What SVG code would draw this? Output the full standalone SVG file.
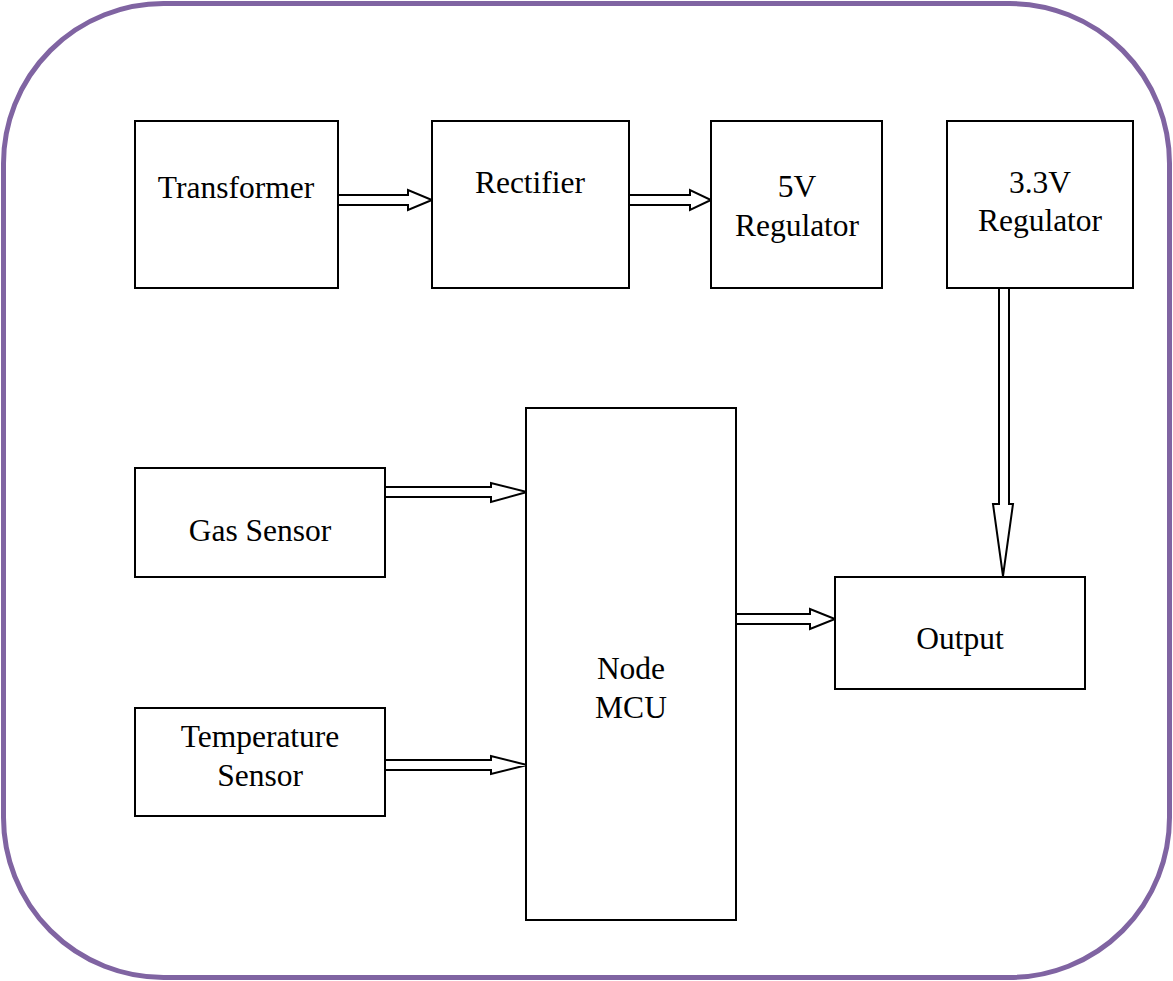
<svg xmlns="http://www.w3.org/2000/svg" width="1173" height="981" viewBox="0 0 1173 981">
<style>
.box{fill:#fff;stroke:#000;stroke-width:2}
.arr{fill:#fff;stroke:#000;stroke-width:2;stroke-linejoin:miter}
text{font-family:"Liberation Serif",serif;font-size:31.5px;fill:#000;text-anchor:middle}
</style>
<rect x="0" y="0" width="1173" height="981" fill="#fff"/>
<rect id="frame" x="3.5" y="3.5" width="1166" height="974" rx="160" ry="160" fill="none" stroke="#8064A2" stroke-width="5"/>
<g id="connectors">
<polygon class="arr" points="338,195 408,195 408,190 432,200 408,210 408,205 338,205"/>
<polygon class="arr" points="629,195 690,195 690,190 711,200 690,210 690,205 629,205"/>
<polygon class="arr" points="999,288 1009,288 1009,504 1013,504 1003,576 993,504 999,504"/>
<polygon class="arr" points="385,487 491,487 491,483 527,492 491,502 491,497 385,497"/>
<polygon class="arr" points="385,760 491,760 491,756 527,765 491,774 491,770 385,770"/>
<polygon class="arr" points="736,614 810,614 810,609 835,619 810,629 810,624 736,624"/>
</g>
<g id="transformer"><rect class="box" x="135" y="121" width="203" height="167"/><text x="236" y="198">Transformer</text></g>
<g id="rectifier"><rect class="box" x="432" y="121" width="197" height="167"/><text x="530" y="193">Rectifier</text></g>
<g id="reg5v"><rect class="box" x="711" y="121" width="171" height="167"/><text x="797" y="197">5V</text><text x="797" y="236">Regulator</text></g>
<g id="reg33v"><rect class="box" x="947" y="121" width="186" height="167"/><text x="1040" y="193">3.3V</text><text x="1040" y="231">Regulator</text></g>
<g id="gas"><rect class="box" x="135" y="468" width="250" height="109"/><text x="260" y="541">Gas Sensor</text></g>
<g id="temp"><rect class="box" x="135" y="708" width="250" height="108"/><text x="260" y="747">Temperature</text><text x="260" y="786">Sensor</text></g>
<g id="mcu"><rect class="box" x="526" y="408" width="210" height="512"/><text x="631" y="679">Node</text><text x="631" y="718">MCU</text></g>
<g id="output"><rect class="box" x="835" y="577" width="250" height="112"/><text x="960" y="649">Output</text></g>
</svg>
